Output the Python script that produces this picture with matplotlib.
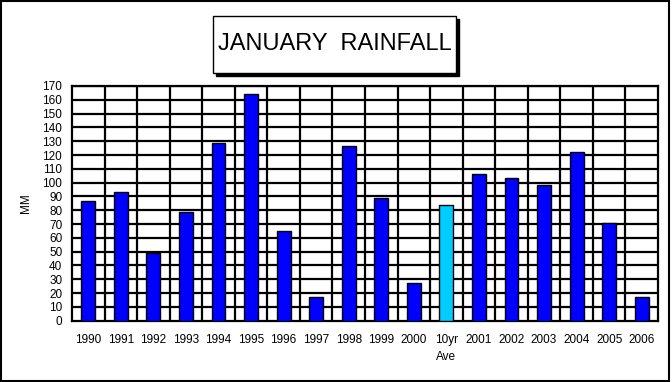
import numpy as np
import matplotlib.pyplot as plt
from matplotlib.patches import Rectangle

# january rainfall per year, with the 10 year average (1991-2000) in the middle
labels = ['1990', '1991', '1992', '1993', '1994', '1995', '1996', '1997', '1998',
          '1999', '2000', '10yr\nAve', '2001', '2002', '2003', '2004', '2005', '2006']
rain_mm = [87, 93, 49, 79, 129, 164, 65, 17, 126.5, 89, 27, 83.5,
           106, 103, 98, 122, 70.5, 17]
is_avg = [lab.startswith('10yr') for lab in labels]

bar_blue = '#0000FF'
avg_cyan = '#00CCFF'
colors = [avg_cyan if a else bar_blue for a in is_avg]

plt.rcParams['font.family'] = ['Liberation Sans', 'DejaVu Sans']

fig = plt.figure(figsize=(6.72, 3.82), dpi=100)
ax = fig.add_axes([72/672, 1-320.6/382, (658-72)/672, (320.6-86)/382])

x = np.arange(len(labels))
ax.bar(x, rain_mm, width=0.43, color=colors, edgecolor='black', linewidth=1.0, zorder=3)

ax.set_xlim(-0.5, len(labels)-0.5)
ax.set_ylim(0, 170)
ax.set_yticks(np.arange(0, 171, 10))
ax.set_xticks(x)
ax.set_xticklabels(labels, fontsize=8.5, linespacing=1.55, va='top')
ax.tick_params(axis='x', length=3, direction='in', width=1, pad=10)
ax.tick_params(axis='y', length=0, pad=7, labelsize=8.5)

# grid: horizontal every 10, vertical between categories
for yv in np.arange(10, 171, 10):
    ax.axhline(yv, color='black', linewidth=1.6, zorder=1)
for xv in np.arange(0.5, len(labels)-0.5, 1):
    ax.axvline(xv, color='black', linewidth=1.6, zorder=1)
for s in ax.spines.values():
    s.set_linewidth(1.6)

ax.set_ylabel('MM', fontsize=8.5)
ax.yaxis.set_label_coords(-0.068, 0.5)

# title box with drop shadow
bx, by, bw, bh = 213/672, 1-73/382, 243/672, 57/382
fig.add_artist(Rectangle((bx+3/672, by-3/382), bw, bh, transform=fig.transFigure,
                         facecolor='black', edgecolor='black', zorder=5))
fig.add_artist(Rectangle((bx, by), bw, bh, transform=fig.transFigure,
                         facecolor='white', edgecolor='black', linewidth=1.0, zorder=6))
fig.text(bx+bw/2, by+bh/2, 'JANUARY  RAINFALL', ha='center', va='center', fontsize=17,
         zorder=7)

# outer frame
fig.add_artist(Rectangle((0.001, 0.003), 0.995, 0.995, transform=fig.transFigure,
                         fill=False, edgecolor='black', linewidth=1.5))

fig.savefig('out.png', dpi=100)
